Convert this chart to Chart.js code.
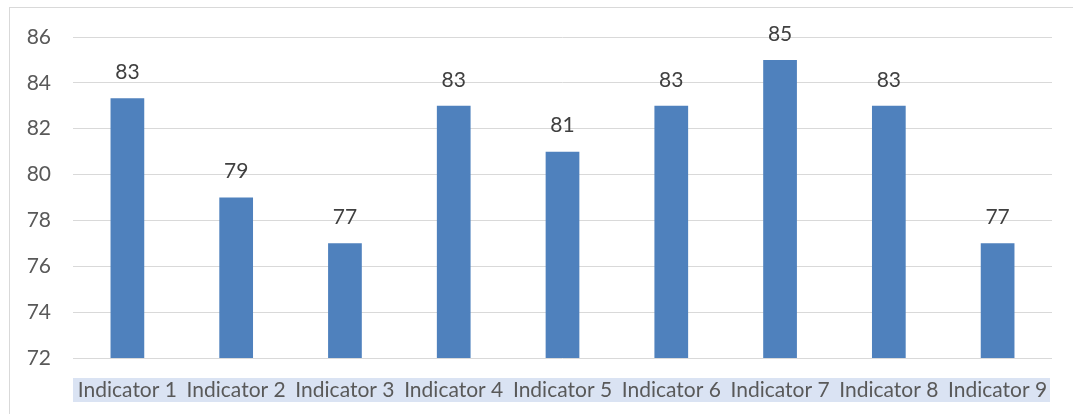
<!DOCTYPE html>
<html>
<head>
<meta charset="utf-8">
<script src="https://cdn.jsdelivr.net/npm/chart.js@4"></script>
<style>
  html, body { margin: 0; padding: 0; background: #fff; }
  #wrap { position: relative; width: 1073px; height: 414px; }
  #frame { position: absolute; left: 9px; top: 7px; width: 1080px; height: 420px; border: 1px solid #d9d9d9; box-sizing: border-box; }
  canvas { position: absolute; left: 0; top: 0; }
</style>
</head>
<body>
<div id="wrap">
  <div id="frame"></div>
  <canvas id="chart" width="1073" height="414"></canvas>
</div>
<script>
const categories = ['Indicator 1', 'Indicator 2', 'Indicator 3', 'Indicator 4', 'Indicator 5', 'Indicator 6', 'Indicator 7', 'Indicator 8', 'Indicator 9'];
const values = [83.33, 79, 77, 83, 81, 83, 85, 83, 77];
const yMin = 72;
const yMax = 86;
const yStep = 2;

// value labels above bars
const valueLabels = {
  id: 'valueLabels',
  afterDatasetsDraw(chart) {
    const ctx = chart.ctx;
    const meta = chart.getDatasetMeta(0);
    ctx.save();
    ctx.font = '21px Lato';
    ctx.fillStyle = '#404040';
    ctx.textAlign = 'center';
    ctx.textBaseline = 'middle';
    meta.data.forEach((bar, i) => {
      ctx.fillText(Math.round(values[i]), bar.x, bar.y - 26);
    });
    ctx.restore();
  }
};

// light blue band behind category labels
const labelBand = {
  id: 'labelBand',
  beforeDraw(chart) {
    const x = chart.scales.x;
    const ctx = chart.ctx;
    ctx.save();
    ctx.fillStyle = '#dae3f3';
    ctx.fillRect(x.left, x.top + 20, x.right - x.left - 2, 24);
    ctx.restore();
  }
};

new Chart(document.getElementById('chart'), {
  type: 'bar',
  data: {
    labels: categories,
    datasets: [{
      data: values,
      backgroundColor: '#4f81bd',
      categoryPercentage: 1,
      barPercentage: 0.31
    }]
  },
  options: {
    responsive: false,
    animation: false,
    layout: { padding: { left: 0, top: 37, right: 21, bottom: 0 } },
    plugins: {
      legend: { display: false },
      tooltip: { enabled: false }
    },
    scales: {
      x: {
        grid: { display: false, drawTicks: false },
        border: { display: false },
        ticks: { color: '#595959', font: { family: 'Lato', size: 21 }, padding: 20, maxRotation: 0, autoSkip: false },
        afterFit(scale) { scale.height = 56; }
      },
      y: {
        min: yMin,
        max: yMax,
        ticks: { stepSize: yStep, color: '#595959', font: { family: 'Lato', size: 21 }, padding: 22 },
        grid: { color: '#d9d9d9', lineWidth: 1, drawTicks: false },
        border: { display: false },
        afterFit(scale) { scale.width = 73; }
      }
    }
  },
  plugins: [labelBand, valueLabels]
});
</script>
</body>
</html>
